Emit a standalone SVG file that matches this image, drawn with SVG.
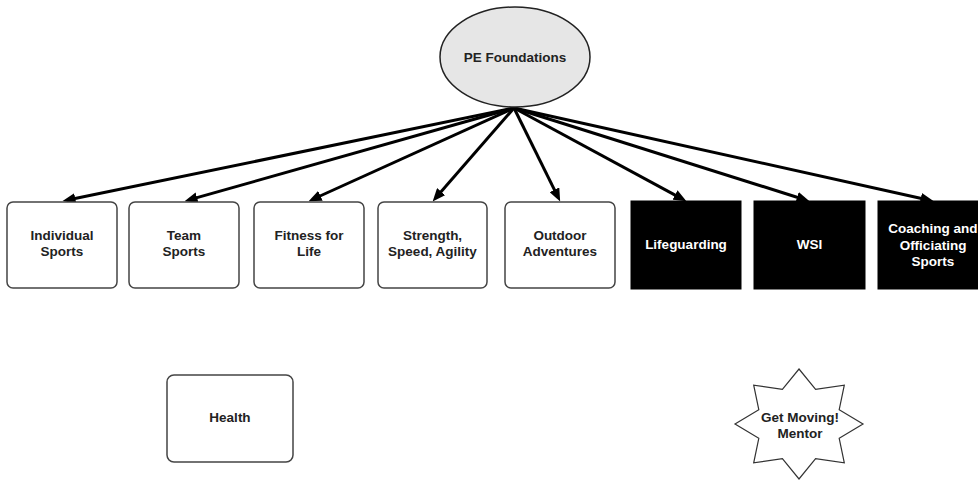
<svg xmlns="http://www.w3.org/2000/svg" width="978" height="480" viewBox="0 0 978 480">
<defs>
<style>
.lbl{font-family:"Liberation Sans",Arial,sans-serif;font-weight:bold;font-size:13.5px;fill:#222;text-anchor:middle}
.wlbl{font-family:"Liberation Sans",Arial,sans-serif;font-weight:bold;font-size:13.5px;fill:#fff;text-anchor:middle}
.box{fill:#fff;stroke:#444;stroke-width:1.5}
.dark{fill:#000;stroke:#000;stroke-width:1}
.conn{stroke:#000;stroke-width:3;fill:none;marker-end:url(#arr)}
</style>
<marker id="arr" viewBox="0 0 12 10" refX="6" refY="5" markerWidth="13" markerHeight="11" markerUnits="userSpaceOnUse" orient="auto">
<path d="M0,0 L12,5 L0,10 z" fill="#000"/>
</marker>
</defs>
<rect width="978" height="480" fill="#fff"/>
<g id="connectors">
<line class="conn" x1="514" y1="108" x2="68.9" y2="199.8"/>
<line class="conn" x1="514" y1="108" x2="190.8" y2="199.4"/>
<line class="conn" x1="514" y1="108" x2="314.5" y2="198.5"/>
<line class="conn" x1="514" y1="108" x2="436.9" y2="196.5"/>
<line class="conn" x1="514" y1="108" x2="557.3" y2="195.6"/>
<line class="conn" x1="514" y1="108" x2="680.7" y2="198.1"/>
<line class="conn" x1="514" y1="108" x2="803.3" y2="199.2"/>
<line class="conn" x1="514" y1="108" x2="927.1" y2="199.7"/>
</g>
<g id="pe-foundations">
<ellipse cx="515" cy="57" rx="75" ry="50" fill="#e6e6e6" stroke="#222" stroke-width="1.5"/>
<text class="lbl" x="515" y="61.5">PE Foundations</text>
</g>
<g id="individual-sports">
<rect class="box" x="7" y="202" width="110" height="86" rx="6"/>
<text class="lbl" x="62" y="240">Individual</text>
<text class="lbl" x="62" y="256">Sports</text>
</g>
<g id="team-sports">
<rect class="box" x="129" y="202" width="110" height="86" rx="6"/>
<text class="lbl" x="184" y="240">Team</text>
<text class="lbl" x="184" y="256">Sports</text>
</g>
<g id="fitness-for-life">
<rect class="box" x="254" y="202" width="110" height="86" rx="6"/>
<text class="lbl" x="309" y="240">Fitness for</text>
<text class="lbl" x="309" y="256">Life</text>
</g>
<g id="strength-speed-agility">
<rect class="box" x="378" y="202" width="109" height="86" rx="6"/>
<text class="lbl" x="432.5" y="240">Strength,</text>
<text class="lbl" x="432.5" y="256">Speed, Agility</text>
</g>
<g id="outdoor-adventures">
<rect class="box" x="505" y="202" width="110" height="86" rx="6"/>
<text class="lbl" x="560" y="240">Outdoor</text>
<text class="lbl" x="560" y="256">Adventures</text>
</g>
<g id="lifeguarding">
<rect class="dark" x="631" y="201" width="110" height="88"/>
<text class="wlbl" x="686" y="249">Lifeguarding</text>
</g>
<g id="wsi">
<rect class="dark" x="754" y="201" width="111" height="88"/>
<text class="wlbl" x="809.5" y="249">WSI</text>
</g>
<g id="coaching-officiating">
<rect class="dark" x="878" y="201" width="110" height="88"/>
<text class="wlbl" x="933" y="233">Coaching and</text>
<text class="wlbl" x="933" y="250">Officiating</text>
<text class="wlbl" x="933" y="266">Sports</text>
</g>
<g id="health">
<rect class="box" x="167" y="375" width="126" height="87" rx="7"/>
<text class="lbl" x="230" y="422">Health</text>
</g>
<g id="get-moving-mentor">
<polygon points="799,369 815.6,389.4 844.3,385.1 839.2,409.7 863,424 839.2,438.3 844.3,462.9 815.6,458.6 799,479 782.4,458.6 753.7,462.9 758.8,438.3 735,424 758.8,409.7 753.7,385.1 782.4,389.4" fill="#fff" stroke="#333" stroke-width="1.2"/>
<text class="lbl" x="800" y="422">Get Moving!</text>
<text class="lbl" x="800" y="438">Mentor</text>
</g>
</svg>
